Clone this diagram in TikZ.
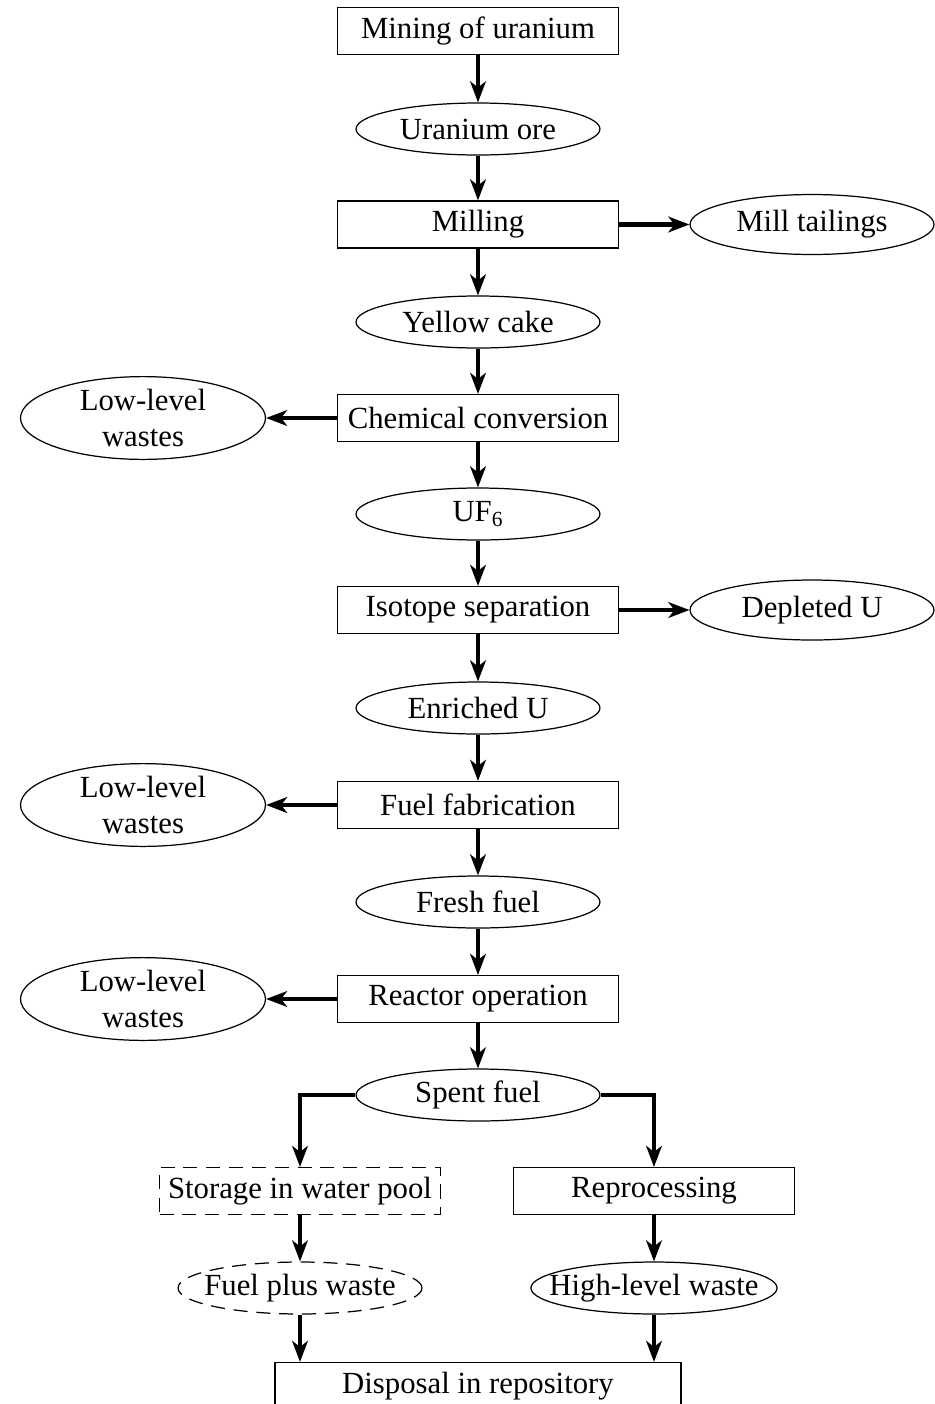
\documentclass[tikz,border=0pt]{standalone}
\usepackage{fontspec}
\setmainfont{Liberation Serif}
\usetikzlibrary{shapes.geometric, arrows.meta}
\tikzstyle{arrow} = [-{Stealth[length=12pt,width=9pt,inset=3.5pt]}, line width=1.8pt]
\tikzstyle{heavyarrow} = [arrow, line width=2.8pt]
\tikzset{
  stepbox/.style={draw, line width=0.7pt, rectangle, minimum width=5.62cm, minimum height=0.94cm, inner sep=0pt, font=\fontsize{17.5}{21}\selectfont},
  product/.style={draw, line width=0.7pt, ellipse, minimum width=4.88cm, minimum height=1.04cm, inner sep=0pt, font=\fontsize{17.5}{21}\selectfont},
  tightproduct/.style={product, inner xsep=-10pt},
  sideproduct/.style={product, minimum height=1.2cm},
  lowwaste/.style={product, minimum width=4.9cm, minimum height=1.6cm, align=center},
}

\begin{document}
\begin{tikzpicture}[x=0.02cm, y=0.02cm]
    \useasboundingbox (0,0) rectangle (934,-1404);

    % Main chain of the fuel cycle
    \node[stepbox] (mining) at (478,-31) {Mining of uranium};
    \node[product] (ore) at (478,-129) {Uranium ore};
    \node[stepbox] (milling) at (478,-224.5) {Milling};
    \node[product] (yellow) at (478,-322) {Yellow cake};
    \node[stepbox] (conversion) at (478,-418) {Chemical conversion};
    \node[product] (uf) at (478,-514) {UF\textsubscript{6}};
    \node[stepbox] (isotope) at (478,-610) {Isotope separation};
    \node[product] (enriched) at (478,-708) {Enriched U};
    \node[stepbox] (fabrication) at (478,-805) {Fuel fabrication};
    \node[product] (fresh) at (478,-902) {Fresh fuel};
    \node[stepbox] (reactor) at (478,-999) {Reactor operation};
    \node[product] (spent) at (478,-1095) {Spent fuel};

    % Side products
    \node[sideproduct] (tailings) at (812,-224.5) {Mill tailings};
    \node[sideproduct] (depleted) at (812,-610) {Depleted U};
    \node[lowwaste] (lowconv) at (143,-418) {Low-level\\wastes};
    \node[lowwaste] (lowfab) at (143,-805) {Low-level\\wastes};
    \node[lowwaste] (lowreact) at (143,-999) {Low-level\\wastes};

    % Two branches after the reactor
    \node[stepbox, dashed, dash pattern=on 8pt off 5pt] (storage) at (300,-1191) {Storage in water pool};
    \node[stepbox] (reprocessing) at (654,-1191) {Reprocessing};
    \node[tightproduct, dashed, dash pattern=on 8pt off 5pt] (fuelwaste) at (300,-1288) {Fuel plus waste};
    \node[tightproduct] (highlevel) at (654,-1288) {High-level waste};
    \node[stepbox, minimum width=8.12cm] (disposal) at (478,-1386) {Disposal in repository};

    % Connectors
    \draw[arrow] (mining) -- (ore);
    \draw[arrow] (ore) -- (milling);
    \draw[arrow] (milling) -- (yellow);
    \draw[arrow] (yellow) -- (conversion);
    \draw[arrow] (conversion) -- (uf);
    \draw[arrow] (uf) -- (isotope);
    \draw[arrow] (isotope) -- (enriched);
    \draw[arrow] (enriched) -- (fabrication);
    \draw[arrow] (fabrication) -- (fresh);
    \draw[arrow] (fresh) -- (reactor);
    \draw[arrow] (reactor) -- (spent);

    \draw[heavyarrow] (milling.east) -- (tailings.west);
    \draw[arrow] (isotope.east) -- (depleted.west);
    \draw[arrow] (conversion.west) -- (lowconv.east);
    \draw[heavyarrow] (fabrication.west) -- (lowfab.east);
    \draw[arrow] (reactor.west) -- (lowreact.east);

    \draw[arrow] (spent.west) -| (storage.north);
    \draw[arrow] (spent.east) -| (reprocessing.north);
    \draw[arrow] (storage) -- (fuelwaste);
    \draw[arrow] (reprocessing) -- (highlevel);
    \draw[arrow] (fuelwaste.south) -- (fuelwaste.south |- disposal.north);
    \draw[arrow] (highlevel.south) -- (highlevel.south |- disposal.north);
\end{tikzpicture}
\end{document}
